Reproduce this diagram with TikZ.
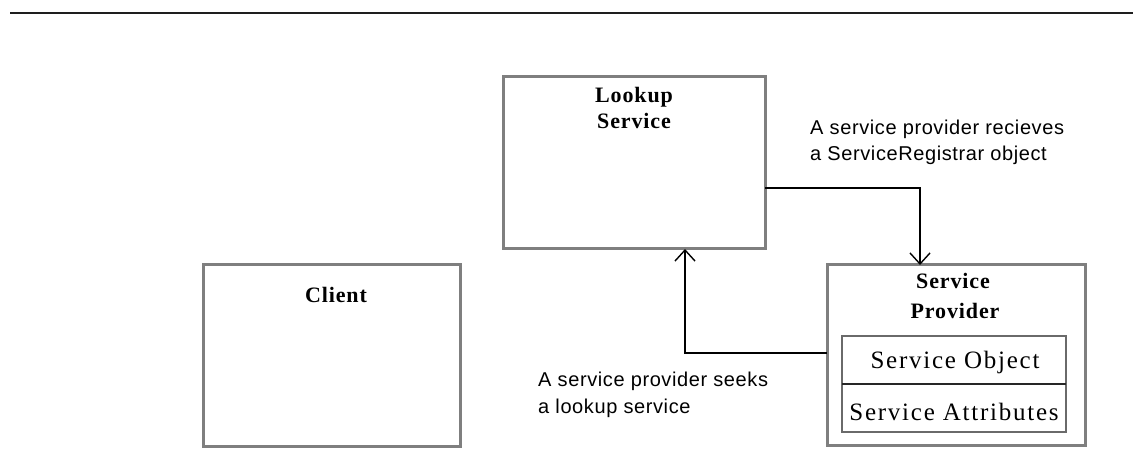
\documentclass[tikz,border=0pt]{standalone}
\usepackage{fontspec}
\setmainfont{Liberation Serif}
\newfontfamily\titlefont[LetterSpace=4]{Liberation Serif}
\newfontfamily\partfont[LetterSpace=7]{Liberation Serif}
\newfontfamily\notefont[LetterSpace=3]{Liberation Sans}
\usetikzlibrary{arrows.meta}
\definecolor{edgegray}{HTML}{7F7F7F}
\definecolor{innergray}{HTML}{6A6A6A}
\definecolor{rulegray}{HTML}{1E1E1E}
\tikzset{
  box/.style={draw=edgegray, line width=3pt, fill=white, inner sep=0pt, outer sep=0pt, anchor=north west},
  partbox/.style={draw=innergray, line width=2pt, inner sep=0pt, outer sep=0pt, anchor=north west},
  divider/.style={draw=black!85, line width=2pt},
  title/.style={font=\titlefont\bfseries\fontsize{22}{22}\selectfont, anchor=base, inner sep=0pt},
  parttext/.style={font=\partfont\fontsize{25}{25}\selectfont, anchor=base, inner sep=0pt},
  note/.style={font=\notefont\fontsize{20}{20}\selectfont, anchor=base west, inner sep=0pt},
  conn/.style={draw=black, line width=1.5pt, -{Straight Barb[length=11pt, width=20pt, line width=1.4pt]}},
  toprule/.style={draw=rulegray, line width=2.2pt}
}
\begin{document}
\begin{tikzpicture}[x=1pt, y=-1pt]
\useasboundingbox (0,0) rectangle (1133,473);

% page rule
\draw[toprule] (10,13) -- (1133,13);

% boxes
\node[box, minimum width=262pt, minimum height=172pt] (lookup) at (503,77) {};
\node[box, minimum width=257pt, minimum height=181pt] (client) at (203,265) {};
\node[box, minimum width=258pt, minimum height=180pt] (prov) at (827,265) {};
\node[partbox, minimum width=224pt, minimum height=96pt] (parts) at (842,336) {};
\coordinate (split) at (842,384);
\draw[divider] (parts.west |- split) -- (parts.east |- split);

% box titles
\node[title] (lookupA) at (634,103) {Lookup};
\node[title] (lookupB) at (634,129) {Service};
\node[title] (clientT) at (336,302) {Client};
\node[title] (provA) at (953,289) {Service};
\node[title] (provB) at (955,318) {Provider};

% parts of the service provider
\node[parttext] (objT) at (955,368) {Service Object};
\node[parttext] (attT) at (954,420) {Service Attributes};

% connectors
\coordinate (bendA) at (920,188);
\draw[conn] (lookup.east |- bendA) -- (bendA) -- (bendA |- prov.north);
\coordinate (bendB) at (685,353);
\draw[conn] (prov.west |- bendB) -- (bendB) -- (bendB |- lookup.south);

% connector notes
\node[note] (noteA1) at (810,135) {A service provider recieves};
\node[note] (noteA2) at (810,161) {a ServiceRegistrar object};
\node[note] (noteB1) at (538,386) {A service provider seeks};
\node[note] (noteB2) at (538,413) {a lookup service};
\end{tikzpicture}
\end{document}
